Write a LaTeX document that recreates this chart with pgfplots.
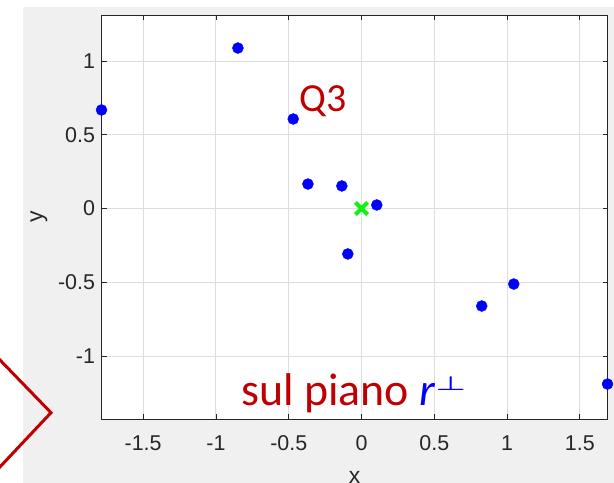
\documentclass[border=0pt]{standalone}
\usepackage{graphicx}
\usepackage{pgfplots}
\pgfplotsset{compat=1.18}
\usepackage{fontspec}
\setmainfont{Liberation Sans}
\newfontfamily\calibri{Carlito}
\definecolor{figgray}{RGB}{240,240,240}
\definecolor{axisdark}{RGB}{38,38,38}
\definecolor{gridgray}{RGB}{222,222,222}
\definecolor{darkred}{RGB}{192,0,0}
\definecolor{ptblue}{RGB}{0,0,255}
\definecolor{xgreen}{RGB}{20,240,20}
\begin{document}
\begin{tikzpicture}[x=1bp,y=1bp]
\useasboundingbox (0,0) rectangle (614,483);
\clip (0,0) rectangle (614,483);
\fill[white] (0,0) rectangle (614,483);
\fill[figgray] (23,0) rectangle (614,476);
\begin{axis}[
  at={(101.5bp,64bp)}, anchor=south west,
  scale only axis, width=506bp, height=404bp,
  xmin=-1.786, xmax=1.69, ymin=-1.427, ymax=1.312,
  xtick={-1.5,-1,-0.5,0,0.5,1,1.5},
  ytick={-1,-0.5,0,0.5,1},
  axis line style={axisdark, line width=0.8bp},
  tick style={axisdark, line width=0.8bp},
  major tick length=5bp,
  tick align=inside,
  grid=major,
  major grid style={gridgray, line width=0.9bp},
  axis background/.style={fill=white},
  /pgf/number format/assume math mode=true,
  ticklabel style={font=\fontsize{21.5}{21.5}\selectfont, text=axisdark},
  xticklabel style={yshift=-13bp},
  yticklabel style={xshift=-3bp},
  xlabel={x}, ylabel={y},
  label style={font=\fontsize{23}{23}\selectfont, text=axisdark},
  xlabel style={at={(axis description cs:0.5,0)}, anchor=center, yshift=-58bp},
  ylabel style={at={(axis description cs:0,0.5)}, anchor=center, yshift=62.5bp},
  clip=false,
]
% projected points
\addplot[only marks, mark=*, ptblue, mark options={mark size=5.5bp, fill=ptblue, draw=ptblue}]
  coordinates {
    (-1.786, 0.668) (-0.849, 1.088) (-0.469, 0.607) (-0.368, 0.166)
    (-0.135, 0.153) (0.105, 0.024) (-0.094, -0.308) (0.826, -0.661)
    (1.046, -0.512) (1.69, -1.19)
  };
% origin
\addplot[only marks, mark=x, xgreen, mark options={mark size=8.5bp, line width=4bp}]
  coordinates {(0,0)};
\end{axis}
% annotations
\node[anchor=base west, inner sep=0pt, text=darkred, font=\calibri\fontsize{40}{40}\selectfont] at (299,371) {Q3};
\node[anchor=base west, inner sep=0pt, text=darkred, font=\calibri\fontsize{46}{46}\selectfont] at (241,77)
  {sul piano \textcolor{ptblue}{\itshape r\kern1bp\raisebox{15bp}{\scalebox{1.35}[0.8]{\fontsize{26}{26}\selectfont\boldmath$\perp$}}}};
\draw[darkred, line width=3bp, miter limit=10] (-2,125) -- (51,70.3) -- (-2,14);
\end{tikzpicture}
\end{document}
